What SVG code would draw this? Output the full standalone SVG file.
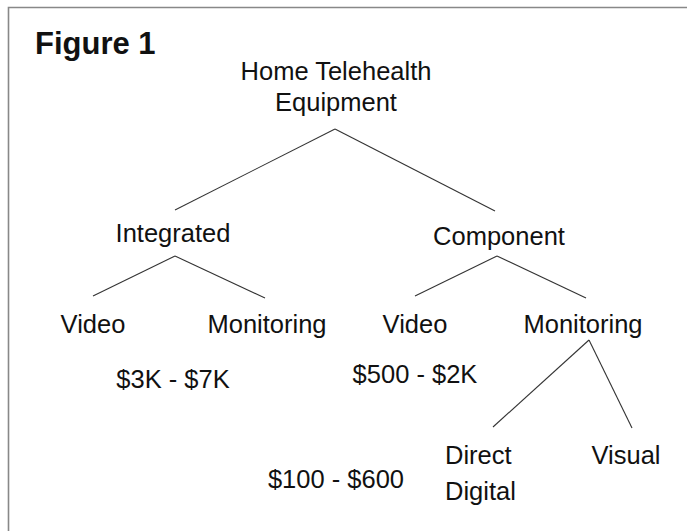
<svg xmlns="http://www.w3.org/2000/svg" width="687" height="531" viewBox="0 0 687 531">
<style>
text{font-family:"Liberation Sans",Arial,sans-serif;font-size:25.5px;fill:#111}
.c{text-anchor:middle}
.t{font-weight:bold;font-size:31px}
#connectors line{stroke:#333;stroke-width:1.1}
</style>
<rect width="687" height="531" fill="#fff"/>
<path d="M8.5 531V7.5H687" fill="none" stroke="#888" stroke-width="1.6"/>
<text class="t" x="35" y="54">Figure 1</text>
<g id="connectors">
<line x1="335" y1="129" x2="175" y2="210"/>
<line x1="335" y1="129" x2="495" y2="211"/>
<line x1="175" y1="256" x2="93" y2="296"/>
<line x1="175" y1="256" x2="265" y2="298"/>
<line x1="497" y1="256" x2="415" y2="296"/>
<line x1="497" y1="256" x2="586" y2="298"/>
<line x1="589" y1="340" x2="493" y2="427"/>
<line x1="589" y1="340" x2="632" y2="428"/>
</g>
<g id="root"><text class="c" x="336" y="80">Home Telehealth</text><text class="c" x="336" y="111">Equipment</text></g>
<g id="integrated"><text class="c" x="173" y="242">Integrated</text></g>
<g id="component"><text class="c" x="499" y="245">Component</text></g>
<g id="int-video"><text class="c" x="93" y="333">Video</text></g>
<g id="int-monitoring"><text class="c" x="267" y="333">Monitoring</text></g>
<g id="int-price"><text class="c" x="173" y="388">$3K - $7K</text></g>
<g id="comp-video"><text class="c" x="415" y="333">Video</text></g>
<g id="comp-monitoring"><text class="c" x="583" y="333">Monitoring</text></g>
<g id="comp-video-price"><text class="c" x="415" y="383">$500 - $2K</text></g>
<g id="direct-digital"><text x="445" y="464">Direct</text><text x="445" y="500">Digital</text></g>
<g id="visual"><text class="c" x="626" y="464">Visual</text></g>
<g id="mon-price"><text class="c" x="336" y="488">$100 - $600</text></g>
</svg>
